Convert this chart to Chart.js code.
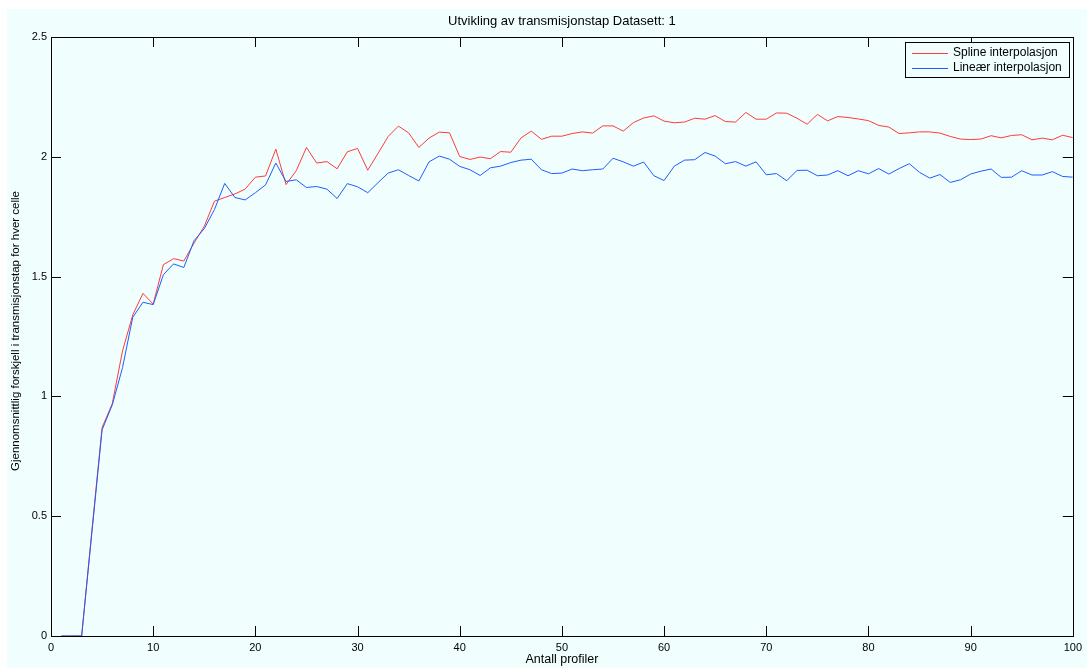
<!DOCTYPE html>
<html>
<head>
<meta charset="utf-8">
<script src="https://cdn.jsdelivr.net/npm/chart.js@4.4.1/dist/chart.umd.min.js"></script>
<style>
html,body{margin:0;padding:0;background:#ffffff;}
#wrap{position:absolute;left:0;top:0;width:1087px;height:668px;}
</style>
</head>
<body>
<div id="wrap"><canvas id="c" width="1087" height="668"></canvas></div>
<script>
const chartTitle = 'Utvikling av transmisjonstap Datasett: 1';
const xAxisLabel = 'Antall profiler';
const yAxisLabel = 'Gjennomsnittlig forskjell i transmisjonstap for hver celle';
const seriesNames = ['Spline interpolasjon', 'Lineær interpolasjon'];
const xTicks = [0, 10, 20, 30, 40, 50, 60, 70, 80, 90, 100];
const yTicks = [0, 0.5, 1, 1.5, 2, 2.5];
const profiles = [1,2,3,4,5,6,7,8,9,10,11,12,13,14,15,16,17,18,19,20,21,22,23,24,25,26,27,28,29,30,31,32,33,34,35,36,37,38,39,40,41,42,43,44,45,46,47,48,49,50,51,52,53,54,55,56,57,58,59,60,61,62,63,64,65,66,67,68,69,70,71,72,73,74,75,76,77,78,79,80,81,82,83,84,85,86,87,88,89,90,91,92,93,94,95,96,97,98,99,100];
const splineValues = [0,0,0,0.44,0.87,0.97,1.19,1.34,1.43,1.385,
  1.55,1.575,1.565,1.64,1.71,1.815,1.83,1.845,1.865,1.915,
  1.92,2.032,1.884,1.942,2.039,1.974,1.98,1.95,2.021,2.035,
  1.944,2.014,2.085,2.128,2.10,2.039,2.078,2.103,2.10,2.001,
  1.989,1.999,1.992,2.022,2.019,2.079,2.107,2.073,2.086,2.086,
  2.097,2.104,2.099,2.129,2.129,2.107,2.143,2.162,2.171,2.149,
  2.142,2.145,2.161,2.157,2.172,2.147,2.145,2.185,2.157,2.157,
  2.183,2.182,2.161,2.136,2.177,2.15,2.168,2.164,2.158,2.151,
  2.131,2.124,2.097,2.10,2.104,2.104,2.099,2.085,2.074,2.072,
  2.074,2.088,2.079,2.089,2.092,2.071,2.078,2.071,2.09,2.08];
const linearValues = [0,0,0,0.43,0.86,0.965,1.12,1.33,1.393,1.383,
  1.508,1.553,1.538,1.65,1.70,1.78,1.889,1.83,1.82,1.85,
  1.883,1.974,1.897,1.904,1.872,1.876,1.865,1.826,1.888,1.875,
  1.85,1.892,1.932,1.946,1.922,1.899,1.979,2.003,1.99,1.96,
  1.946,1.922,1.954,1.961,1.976,1.986,1.99,1.946,1.93,1.932,
  1.949,1.942,1.946,1.949,1.994,1.979,1.961,1.978,1.921,1.901,
  1.961,1.986,1.988,2.018,2.003,1.971,1.98,1.961,1.979,1.925,
  1.93,1.90,1.943,1.944,1.921,1.924,1.942,1.921,1.942,1.929,
  1.951,1.928,1.951,1.971,1.935,1.911,1.926,1.893,1.904,1.928,
  1.94,1.949,1.914,1.915,1.942,1.924,1.924,1.938,1.918,1.915];

const RED = '#ff3a3a';
const BLUE = '#1f5cff';
const BG = '#f0fffe';
const FONT = '"Liberation Sans", Arial, Helvetica, sans-serif';

const pts = (vals) => profiles.map((p, i) => ({x: p, y: vals[i]}));

const framePlugin = {
  id: 'frame',
  beforeDraw(chart) {
    const ctx = chart.ctx;
    ctx.save();
    ctx.fillStyle = '#ffffff';
    ctx.fillRect(0, 0, chart.width, chart.height);
    ctx.fillStyle = BG;
    ctx.fillRect(7, 9, chart.width - 7, chart.height - 9);
    ctx.restore();
  },
  afterDatasetsDraw(chart) {
    const ctx = chart.ctx;
    const a = chart.chartArea;
    const xs = chart.scales.x, ys = chart.scales.y;
    const L = 10;
    ctx.save();
    ctx.strokeStyle = '#000000';
    ctx.lineWidth = 1;
    ctx.beginPath();
    xTicks.forEach(v => {
      const px = Math.round(xs.getPixelForValue(v)) + 0.5;
      ctx.moveTo(px, a.bottom); ctx.lineTo(px, a.bottom - L);
      ctx.moveTo(px, a.top); ctx.lineTo(px, a.top + L);
    });
    yTicks.forEach(v => {
      const py = Math.round(ys.getPixelForValue(v)) + 0.5;
      ctx.moveTo(a.left, py); ctx.lineTo(a.left + L, py);
      ctx.moveTo(a.right, py); ctx.lineTo(a.right - L, py);
    });
    ctx.stroke();
    ctx.strokeRect(Math.round(a.left) + 0.5, Math.round(a.top) + 0.5,
                   Math.round(a.right - a.left), Math.round(a.bottom - a.top));
    // y axis label
    ctx.save();
    ctx.translate(16, 331);
    ctx.rotate(-Math.PI / 2);
    ctx.font = '11.5px ' + FONT;
    ctx.fillStyle = '#000000';
    ctx.textAlign = 'center';
    ctx.textBaseline = 'middle';
    ctx.fillText(yAxisLabel, 0, 0);
    ctx.restore();
    // legend
    const bx = 905.5, by = 42.5, bw = 164, bh = 35;
    ctx.fillStyle = BG;
    ctx.fillRect(bx, by, bw, bh);
    ctx.strokeStyle = '#000000';
    ctx.strokeRect(bx, by, bw, bh);
    const ds = [chart.data.datasets[1], chart.data.datasets[0]];
    ctx.font = '12px ' + FONT;
    ctx.textBaseline = 'middle';
    ctx.textAlign = 'left';
    ds.forEach((d, i) => {
      const y = 53 + i * 14.5;
      ctx.fillStyle = d.borderColor;
      ctx.fillRect(912, Math.round(y), 36, 1);
      ctx.fillStyle = '#000000';
      ctx.fillText(d.label, 953, y);
    });
    ctx.restore();
  }
};

new Chart(document.getElementById('c'), {
  type: 'line',
  data: {
    datasets: [
      {label: seriesNames[1], data: pts(linearValues), borderColor: BLUE, borderWidth: 1, pointRadius: 0, tension: 0, fill: false, order: 0},
      {label: seriesNames[0], data: pts(splineValues), borderColor: RED, borderWidth: 1, pointRadius: 0, tension: 0, fill: false, order: 1}
    ]
  },
  options: {
    responsive: false,
    animation: false,
    devicePixelRatio: 1,
    layout: {padding: {left: 0, right: 14, top: 0, bottom: 0}},
    plugins: {
      legend: {display: false},
      tooltip: {enabled: false},
      title: {
        display: true, text: chartTitle, color: '#000', fullSize: false,
        font: {family: FONT, size: 13, weight: 'normal', lineHeight: 1.2},
        padding: {top: 14, bottom: 7.4}
      }
    },
    scales: {
      x: {
        type: 'linear', min: 0, max: 100,
        afterFit(s) { s.height = 32; },
        afterBuildTicks(s) { s.ticks = xTicks.map(v => ({value: v})); },
        grid: {display: false, drawTicks: false},
        border: {display: false},
        ticks: {color: '#000', padding: 5, maxRotation: 0, font: {family: FONT, size: 11}},
        title: {display: true, text: xAxisLabel, color: '#000', font: {family: FONT, size: 12.5}, padding: {top: 0, bottom: 1}}
      },
      y: {
        type: 'linear', min: 0, max: 2.5,
        afterFit(s) { s.width = 51; },
        afterBuildTicks(s) { s.ticks = yTicks.map(v => ({value: v})); },
        grid: {display: false, drawTicks: false},
        border: {display: false},
        ticks: {color: '#000', padding: 4, font: {family: FONT, size: 11}, callback: (v) => String(v)},
        title: {display: false, text: yAxisLabel}
      }
    }
  },
  plugins: [framePlugin]
});
</script>
</body>
</html>
